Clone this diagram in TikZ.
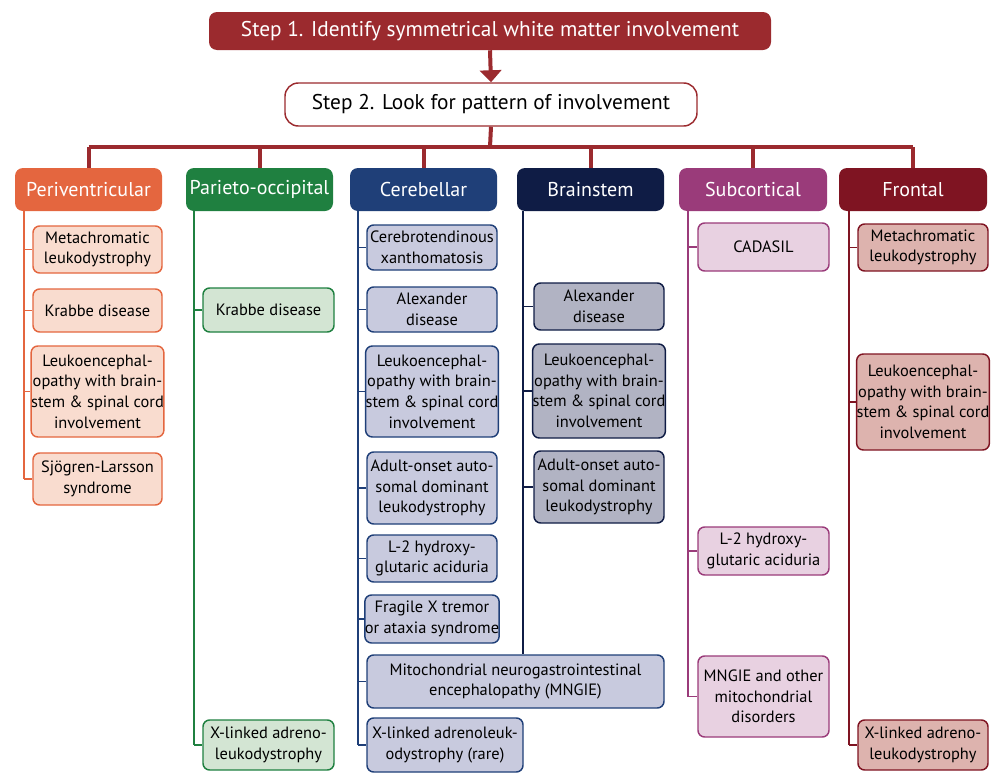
\documentclass[tikz,border=0pt]{standalone}
\usepackage{fontspec}
\setmainfont{PT Sans}
\usetikzlibrary{arrows.meta}
\definecolor{sred}{HTML}{9B2A2E}
\definecolor{pvD}{HTML}{E4663F}\definecolor{pvL}{HTML}{F9DCCF}
\definecolor{poD}{HTML}{1F8040}\definecolor{poL}{HTML}{D3E5D3}
\definecolor{ceD}{HTML}{1F3F78}\definecolor{ceL}{HTML}{C8CADE}
\definecolor{bsD}{HTML}{0F1C45}\definecolor{bsL}{HTML}{B1B3C3}
\definecolor{scD}{HTML}{9A3B7A}\definecolor{scL}{HTML}{E8D1E1}
\definecolor{frD}{HTML}{7F1422}\definecolor{frL}{HTML}{DDB3AE}
\begin{document}
\begin{tikzpicture}[x=0.75pt,y=-0.75pt,
  bx/.style n args={4}{at={({(#1+#3)/2},{(#2+#4)/2})},minimum width={(#3-#1)*0.75pt},minimum height={(#4-#2)*0.75pt}},
  box/.style={rounded corners=5pt,line width=1.1pt,align=center,inner sep=0pt,font=\fontsize{12.3}{15.5}\selectfont,text=black},
  hdr/.style={rounded corners=6pt,align=center,inner sep=0pt,text=white,font=\fontsize{15}{17}\selectfont},
  pv/.style={box,fill=pvL,draw=pvD},po/.style={box,fill=poL,draw=poD},
  ce/.style={box,fill=ceL,draw=ceD},bs/.style={box,fill=bsL,draw=bsD},
  sc/.style={box,fill=scL,draw=scD},fr/.style={box,fill=frL,draw=frD},
  bus/.style={draw=sred,line width=3pt}]
\useasboundingbox (0,0) rectangle (1004,782);
% steps
\node[hdr,fill=sred,bx={209}{12}{771}{50},font=\fontsize{16}{18}\selectfont] (s1) {Step 1. Identify symmetrical white matter involvement};
\node[hdr,fill=white,draw=sred,line width=1.1pt,text=black,bx={285}{83}{697}{126},font=\fontsize{16}{18}\selectfont,rounded corners=10pt] (s2) {Step 2. Look for pattern of involvement};
\draw[bus,-{Triangle[length=9pt,width=16pt,fill=sred]}] (s1.south) -- (s2.north);
% headers
\node[hdr,fill=pvD,bx={15}{168}{162}{211}] (h1) {Periventricular};
\node[hdr,fill=poD,bx={186}{168}{333}{211}] (h2) {Parieto-occipital};
\node[hdr,fill=ceD,bx={350}{168}{497}{211}] (h3) {Cerebellar};
\node[hdr,fill=bsD,bx={517}{168}{664}{211}] (h4) {Brainstem};
\node[hdr,fill=scD,bx={679}{168}{827}{211}] (h5) {Subcortical};
\node[hdr,fill=frD,bx={839}{168}{987}{211}] (h6) {Frontal};
\coordinate (busc) at (490,147);
\draw[bus] (s2.south) -- (busc);
\draw[bus] (h1.north |- busc) -- (h6.north |- busc);
\foreach \h in {h1,h2,h3,h4,h5,h6}{\draw[bus] (\h.north |- busc) -- (\h.north);}
% Periventricular
\node[pv,bx={33}{226}{162}{273}] (a1) {Metachromatic\\leukodystrophy};
\node[pv,bx={33}{289}{162}{332}] (a2) {Krabbe disease};
\node[pv,bx={33}{346}{162}{437}] (a3) {Leukoencephal-\\opathy with brain-\\stem \& spinal cord\\involvement};
\node[pv,bx={33}{453}{162}{505}] (a4) {Sjögren-Larsson\\syndrome};
\coordinate (la) at (24,211);
\draw[pvD,line width=1.1pt] (la) -- (la |- a4.west);
\foreach \n in {a1,a2,a3,a4}{\draw[pvD,line width=1.1pt] (la |- \n.west) -- (\n.west);}
% Parieto-occipital
\node[po,bx={203}{288}{334}{332}] (b1) {Krabbe disease};
\node[po,bx={203}{720}{334}{770}] (b2) {X-linked adreno-\\leukodystrophy};
\coordinate (lb) at (194,211);
\draw[poD,line width=1.1pt] (lb) -- (lb |- b2.west);
\foreach \n in {b1,b2}{\draw[poD,line width=1.1pt] (lb |- \n.west) -- (\n.west);}
% Cerebellar
\node[ce,bx={367}{225}{497}{270}] (c1) {Cerebrotendinous\\xanthomatosis};
\node[ce,bx={367}{287}{497}{332}] (c2) {Alexander\\disease};
\node[ce,bx={367}{346}{497}{437}] (c3) {Leukoencephal-\\opathy with brain-\\stem \& spinal cord\\involvement};
\node[ce,bx={367}{452}{497}{524}] (c4) {Adult-onset auto-\\somal dominant\\leukodystrophy};
\node[ce,bx={367}{535}{497}{582}] (c5) {L-2 hydroxy-\\glutaric aciduria};
\node[ce,bx={367}{595}{497}{643}] (c6) {Fragile X tremor\\or ataxia syndrome};
\node[ce,bx={367}{655}{664}{708}] (c7) {Mitochondrial neurogastrointestinal\\encephalopathy (MNGIE)};
\node[ce,bx={367}{718}{523}{772}] (c8) {X-linked adrenoleuk-\\odystrophy (rare)};
\coordinate (lc) at (358,211);
\draw[ceD,line width=1.1pt] (lc) -- (lc |- c8.west);
\foreach \n in {c1,c2,c3,c4,c5,c6,c7,c8}{\draw[ceD,line width=1.1pt] (lc |- \n.west) -- (\n.west);}
% Brainstem
\node[bs,bx={534}{283}{664}{330}] (d1) {Alexander\\disease};
\node[bs,bx={534}{344}{664}{438}] (d2) {Leukoencephal-\\opathy with brain-\\stem \& spinal cord\\involvement};
\node[bs,bx={534}{451}{664}{523}] (d3) {Adult-onset auto-\\somal dominant\\leukodystrophy};
\coordinate (ld) at (523,211);
\draw[bsD,line width=1.1pt] (ld) -- (ld |- c7.north);
\foreach \n in {d1,d2,d3}{\draw[bsD,line width=1.1pt] (ld |- \n.west) -- (\n.west);}
% Subcortical
\node[sc,bx={698}{223}{829}{271}] (e1) {CADASIL};
\node[sc,bx={698}{527}{829}{575}] (e2) {L-2 hydroxy-\\glutaric aciduria};
\node[sc,bx={698}{656}{829}{737}] (e3) {MNGIE and other\\mitochondrial\\disorders};
\coordinate (le) at (688,211);
\draw[scD,line width=1.1pt] (le) -- (le |- e3.west);
\foreach \n in {e1,e2,e3}{\draw[scD,line width=1.1pt] (le |- \n.west) -- (\n.west);}
% Frontal
\node[fr,bx={858}{224}{988}{271}] (f1) {Metachromatic\\leukodystrophy};
\node[fr,bx={858}{354}{988}{450}] (f2) {Leukoencephal-\\opathy with brain-\\stem \& spinal cord\\involvement};
\node[fr,bx={858}{720}{988}{770}] (f3) {X-linked adreno-\\leukodystrophy};
\coordinate (lf) at (849,211);
\draw[frD,line width=1.1pt] (lf) -- (lf |- f3.west);
\foreach \n in {f1,f2,f3}{\draw[frD,line width=1.1pt] (lf |- \n.west) -- (\n.west);}
\end{tikzpicture}
\end{document}
